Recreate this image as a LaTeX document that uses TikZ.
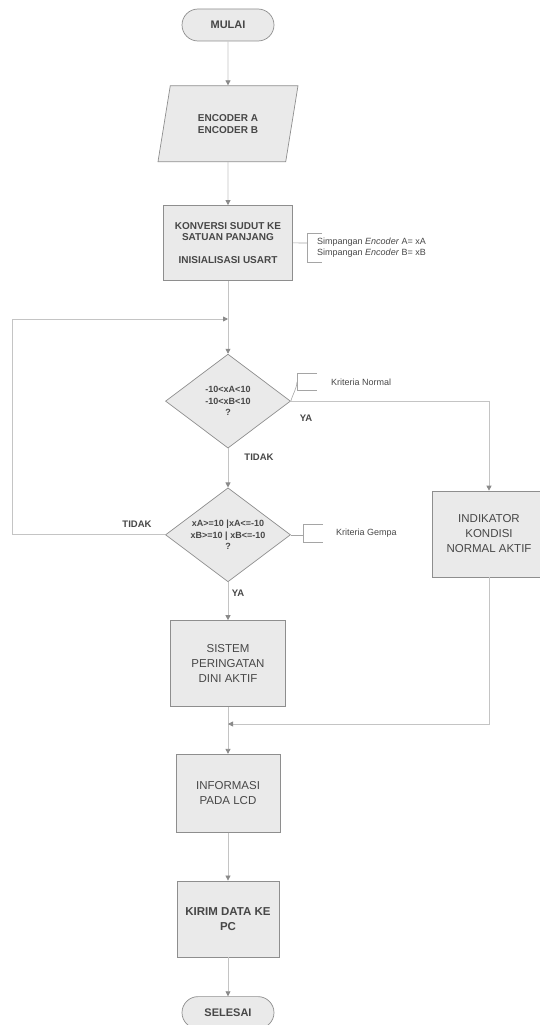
\documentclass[tikz,border=0pt]{standalone}
\usepackage{fontspec}
\setmainfont{Liberation Sans}
\usepackage{xcolor}
\usetikzlibrary{arrows.meta,positioning,shapes.geometric}
\definecolor{boxfill}{HTML}{EAEAEA}
\definecolor{boxline}{HTML}{8E8E8E}
\definecolor{flowline}{HTML}{C4C4C4}
\definecolor{tipgray}{HTML}{8A8A8A}
\definecolor{txtgray}{HTML}{474747}

\begin{document}
\begin{tikzpicture}[x=1pt, y=-1pt, node distance=40pt, every node/.style={text=txtgray, align=center, inner sep=2pt},
  box/.style={draw=boxline, fill=boxfill, line width=0.7pt, rectangle},
  term/.style={box, rounded corners=16pt, minimum width=92pt, minimum height=32pt, font=\bfseries\fontsize{11}{13}\selectfont},
  io/.style={box, trapezium, trapezium left angle=62, trapezium right angle=118, trapezium stretches body, minimum width=140pt, minimum height=76pt, font=\bfseries\fontsize{10}{12}\selectfont},
  dec/.style={box, diamond, aspect=1.33, minimum width=125pt, minimum height=94pt, inner sep=0pt, font=\bfseries\fontsize{9}{11.5}\selectfont},
  proc/.style={box, font=\fontsize{11.5}{15}\selectfont},
  flow/.style={draw=flowline, line width=0.8pt, -{Triangle[length=5pt,width=5pt,color=tipgray]}},
  link/.style={draw=boxline!80, line width=0.6pt},
  note/.style={font=\fontsize{9}{11}\selectfont, anchor=west, align=left},
  lbl/.style={font=\bfseries\fontsize{9.5}{11}\selectfont}]
\useasboundingbox (0,0) rectangle (540,1025);
\node (mulai) [term] at (228,25) {MULAI};
\node (enc) [io, below=44pt of mulai] {ENCODER A\\ENCODER B};
\node (konv) [box, minimum width=129pt, minimum height=75pt, font=\bfseries\fontsize{10}{11.5}\selectfont, below=43pt of enc] {KONVERSI SUDUT KE\\SATUAN PANJANG\\[11pt]INISIALISASI USART};
\node (d1) [dec, below=73pt of konv] {-10<xA<10\\-10<xB<10\\?};
\node (d2) [dec, below=39pt of d1] {xA>=10 |xA<=-10\\xB>=10 | xB<=-10\\?};
\node (sist) [proc, minimum width=115pt, minimum height=86pt, below=38pt of d2] {SISTEM\\PERINGATAN\\DINI AKTIF};
\node (info) [proc, minimum width=104pt, minimum height=78pt, below=47pt of sist] {INFORMASI\\PADA LCD};
\node (kirim) [proc, font=\bfseries\fontsize{11.5}{15}\selectfont, minimum width=102pt, minimum height=76pt, below=48pt of info] {KIRIM DATA KE\\PC};
\node (sel) [term, below=39pt of kirim] {SELESAI};
\node (indik) [proc, minimum width=114pt, minimum height=86pt] at (489,534) {INDIKATOR\\KONDISI\\NORMAL AKTIF};
\coordinate (j1) at (228,319);
\coordinate (j2) at (228,724);
% labels
\node (ya1) [lbl] at (306,418) {YA};
\node (tidak1) [lbl] at (259,457) {TIDAK};
\node (tidak2) [lbl] at (137,524) {TIDAK};
\node (ya2) [lbl] at (238,593) {YA};
% notes
\node (nsimp) [note] at (315,248) {Simpangan \textit{Encoder} A= xA\\Simpangan \textit{Encoder} B= xB};
\draw[link] (konv.east) -- (307,243);
\draw[link] (322,233) -- (307,233) -- (307,262) -- (322,262);
\node (nnorm) [note] at (329,382) {Kriteria Normal};
\draw[link] (d1.east) to[out=75,in=-95] (297,382);
\draw[link] (317,373) -- (297,373) -- (297,390) -- (317,390);
\node (ngemp) [note] at (334,533) {Kriteria Gempa};
\draw[link] (d2.east) -- ++(13,0);
\draw[link] (323,524) -- (303,524) -- (303,542) -- (323,542);
% flow
\draw[flow] (mulai) -- (enc);
\draw[flow] (enc) -- (konv);
\draw[flow] (konv) -- (d1);
\draw[flow] (d1) -- (d2);
\draw[flow] (d2.west) -- ++(-153,0) |- (j1);
\draw[flow] (d1.east) -| (indik.north);
\draw[flow] (d2) -- (sist);
\draw[flow] (sist) -- (info);
\draw[flow] (indik.south) |- (j2);
\draw[flow] (info) -- (kirim);
\draw[flow] (kirim) -- (sel);
\end{tikzpicture}
\end{document}
